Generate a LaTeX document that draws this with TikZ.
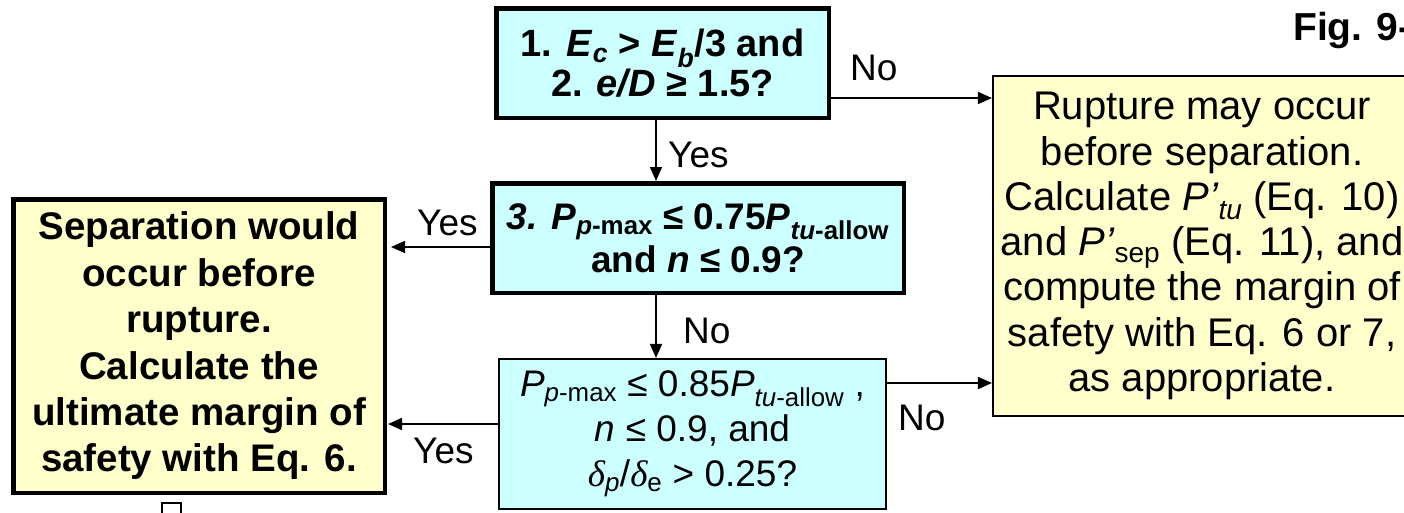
\documentclass[tikz,border=0pt]{standalone}
\usepackage{fontspec}
\setmainfont{Liberation Sans}
\newfontfamily\grk{Liberation Serif}
\usetikzlibrary{arrows.meta}
\definecolor{cyanbox}{HTML}{CCFFFF}
\definecolor{yellowbox}{HTML}{FFFFCC}
\newcommand{\sbs}[1]{\textsubscript{#1}}
\begin{document}
\begin{tikzpicture}[x=1pt,y=-1pt,
  thickbox/.style={draw=black, line width=4.5pt, inner sep=0pt, align=center},
  thinbox/.style={draw=black, line width=1.6pt, inner sep=0pt, align=center},
  arr/.style={draw=black, line width=1.6pt, -{Triangle[length=14pt,width=12pt]}},
  lbl/.style={inner sep=0pt, anchor=base west, font=\fontsize{37}{37}\selectfont}]
\useasboundingbox (0,0) rectangle (1404,512);
\clip (0,0) rectangle (1404,512);

% boxes
\node[thickbox, fill=cyanbox, minimum width=332.5pt, minimum height=109.5pt,
      font=\fontsize{38}{40}\selectfont\bfseries] (b1) at (662.5,63)
  {1. \textit{E}\sbs{\textit{c}} > \textit{E}\sbs{\textit{b}}/3 and\\2. \textit{e/D} ≥ 1.5?};
\node[thickbox, fill=cyanbox, minimum width=411.5pt, minimum height=109.5pt,
      font=\fontsize{37}{43}\selectfont\bfseries] (b2) at (698,238)
  {\textit{3. P}\sbs{\textit{p}-max} ≤ 0.75\textit{P}\sbs{\textit{tu}-allow}\\and \textit{n} ≤ 0.9?};
\node[thinbox, fill=cyanbox, minimum width=387.5pt, minimum height=150.5pt,
      font=\fontsize{37}{45}\selectfont] (b3) at (692.5,434)
  {\textit{P}\sbs{\textit{p}-max} ≤ 0.85\textit{P}\sbs{\textit{tu}-allow} ,\\\textit{n} ≤ 0.9, and\\{\grk\itshape δ}\sbs{\textit{p}}/{\grk\itshape δ}\sbs{e} > 0.25?};
\node[thickbox, fill=yellowbox, minimum width=371.5pt, minimum height=293.5pt,
      font=\fontsize{38.5}{46.4}\selectfont\bfseries] (L) at (199,346)
  {Separation would\\occur before\\rupture.\\Calculate the\\ultimate margin of\\safety with Eq. 6.};
\node[thinbox, fill=yellowbox, minimum width=418.5pt, minimum height=340.5pt,
      font=\fontsize{40}{45.3}\selectfont] (R) at (1202,246)
  {Rupture may occur\\before separation.\\Calculate \textit{P’}\sbs{\textit{tu}} (Eq. 10)\\and \textit{P’}\sbs{sep} (Eq. 11), and\\compute the margin of\\safety with Eq. 6 or 7,\\as appropriate.};
\node[draw=black, line width=2pt, minimum size=19pt, inner sep=0pt] (sq) at (171.5,512.5) {};

% helper coordinates
\coordinate (vx) at (656,0);
\coordinate (h1) at (0,98);
\coordinate (h2) at (0,247);
\coordinate (h3) at (0,383);
\coordinate (h4) at (0,424);

% connectors
\draw[arr] (vx |- b1.south) -- (vx |- b2.north);
\draw[arr] (vx |- b2.south) -- (vx |- b3.north);
\draw[arr] (h2 -| b2.west) -- ([xshift=4pt]h2 -| L.east);
\draw[arr] (h4 -| b3.west) -- ([xshift=1pt]h4 -| L.east);
\draw[arr] (h1 -| b1.east) -- (h1 -| R.west);
\draw[arr] (h3 -| b3.east) -- (h3 -| R.west);

% labels
\node[lbl] (yes1) at (668,167) {Yes};
\node[lbl] (no1) at (683,343) {No};
\node[lbl] (yes2) at (417,235) {Yes};
\node[lbl] (yes3) at (413,463) {Yes};
\node[lbl] (no2) at (850,80) {No};
\node[lbl] (no3) at (898,430) {No};
\node[lbl, font=\fontsize{39}{39}\selectfont\bfseries] (fig) at (1293,40) {Fig. 9-};
\end{tikzpicture}
\end{document}
